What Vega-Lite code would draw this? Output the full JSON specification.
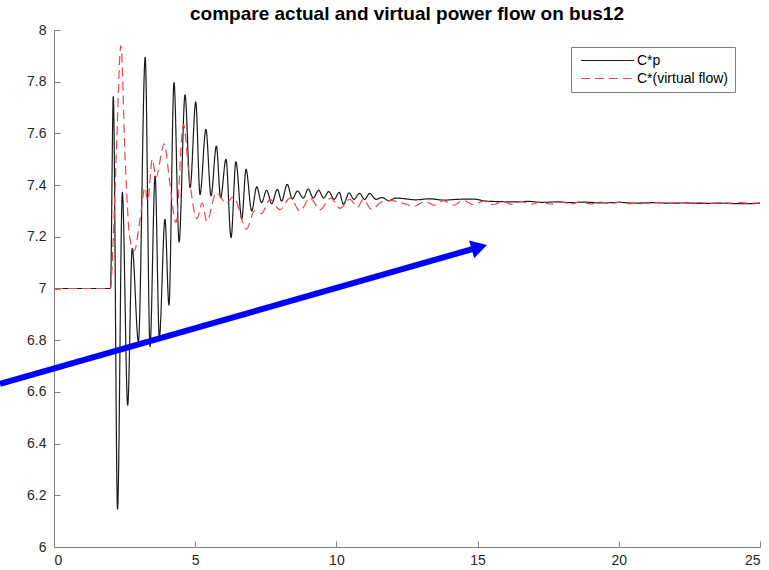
{
  "$schema": "https://vega.github.io/schema/vega-lite/v6.json",
  "width": 706,
  "height": 517,
  "autosize": {"type": "none"},
  "padding": {"left": 54, "top": 30, "right": 9, "bottom": 23},
  "background": "white",
  "title": {"text": "compare actual and virtual power flow on bus12", "fontSize": 19, "fontWeight": "bold", "color": "#000000", "anchor": "middle", "offset": -1},
  "config": {
    "font": "Liberation Sans",
    "view": {"stroke": null},
    "axis": {"grid": false, "domainColor": "#808080", "tickColor": "#808080", "labelColor": "#262626", "labelFontSize": 14, "tickSize": -6, "title": null}
  },
  "datasets": {
    "series": [
      {"t": 0, "v": 7.0, "s": "C*p"},
      {"t": 2.0, "v": 7.0, "s": "C*p"},
      {"t": 2.10, "v": 7.742, "s": "C*p"},
      {"t": 2.25, "v": 6.146, "s": "C*p"},
      {"t": 2.42, "v": 7.372, "s": "C*p"},
      {"t": 2.61, "v": 6.549, "s": "C*p"},
      {"t": 2.77, "v": 7.155, "s": "C*p"},
      {"t": 2.99, "v": 6.794, "s": "C*p"},
      {"t": 3.23, "v": 7.894, "s": "C*p"},
      {"t": 3.40, "v": 6.775, "s": "C*p"},
      {"t": 3.58, "v": 7.435, "s": "C*p"},
      {"t": 3.73, "v": 6.81, "s": "C*p"},
      {"t": 3.93, "v": 7.268, "s": "C*p"},
      {"t": 4.07, "v": 6.936, "s": "C*p"},
      {"t": 4.25, "v": 7.797, "s": "C*p"},
      {"t": 4.43, "v": 7.18, "s": "C*p"},
      {"t": 4.64, "v": 7.749, "s": "C*p"},
      {"t": 4.82, "v": 7.39, "s": "C*p"},
      {"t": 5.02, "v": 7.722, "s": "C*p"},
      {"t": 5.17, "v": 7.364, "s": "C*p"},
      {"t": 5.38, "v": 7.616, "s": "C*p"},
      {"t": 5.56, "v": 7.358, "s": "C*p"},
      {"t": 5.75, "v": 7.551, "s": "C*p"},
      {"t": 5.90, "v": 7.351, "s": "C*p"},
      {"t": 6.09, "v": 7.50, "s": "C*p"},
      {"t": 6.27, "v": 7.197, "s": "C*p"},
      {"t": 6.44, "v": 7.49, "s": "C*p"},
      {"t": 6.65, "v": 7.268, "s": "C*p"},
      {"t": 6.80, "v": 7.461, "s": "C*p"},
      {"t": 7.00, "v": 7.30, "s": "C*p"},
      {"t": 7.18, "v": 7.393, "s": "C*p"},
      {"t": 7.35, "v": 7.332, "s": "C*p"},
      {"t": 7.53, "v": 7.38, "s": "C*p"},
      {"t": 7.71, "v": 7.328, "s": "C*p"},
      {"t": 7.91, "v": 7.384, "s": "C*p"},
      {"t": 8.06, "v": 7.338, "s": "C*p"},
      {"t": 8.26, "v": 7.403, "s": "C*p"},
      {"t": 8.44, "v": 7.346, "s": "C*p"},
      {"t": 8.62, "v": 7.377, "s": "C*p"},
      {"t": 8.83, "v": 7.35, "s": "C*p"},
      {"t": 9.00, "v": 7.385, "s": "C*p"},
      {"t": 9.18, "v": 7.35, "s": "C*p"},
      {"t": 9.37, "v": 7.38, "s": "C*p"},
      {"t": 9.55, "v": 7.35, "s": "C*p"},
      {"t": 9.73, "v": 7.375, "s": "C*p"},
      {"t": 9.92, "v": 7.345, "s": "C*p"},
      {"t": 10.10, "v": 7.372, "s": "C*p"},
      {"t": 10.25, "v": 7.326, "s": "C*p"},
      {"t": 10.45, "v": 7.37, "s": "C*p"},
      {"t": 10.62, "v": 7.345, "s": "C*p"},
      {"t": 10.82, "v": 7.368, "s": "C*p"},
      {"t": 11.00, "v": 7.345, "s": "C*p"},
      {"t": 11.18, "v": 7.368, "s": "C*p"},
      {"t": 11.40, "v": 7.345, "s": "C*p"},
      {"t": 11.62, "v": 7.352, "s": "C*p"},
      {"t": 11.85, "v": 7.34, "s": "C*p"},
      {"t": 12.10, "v": 7.35, "s": "C*p"},
      {"t": 12.37, "v": 7.348, "s": "C*p"},
      {"t": 12.8, "v": 7.343, "s": "C*p"},
      {"t": 13.3, "v": 7.347, "s": "C*p"},
      {"t": 13.8, "v": 7.342, "s": "C*p"},
      {"t": 14.3, "v": 7.345, "s": "C*p"},
      {"t": 14.85, "v": 7.346, "s": "C*p"},
      {"t": 15.3, "v": 7.338, "s": "C*p"},
      {"t": 15.8, "v": 7.336, "s": "C*p"},
      {"t": 16.3, "v": 7.335, "s": "C*p"},
      {"t": 16.8, "v": 7.337, "s": "C*p"},
      {"t": 17.3, "v": 7.333, "s": "C*p"},
      {"t": 17.8, "v": 7.335, "s": "C*p"},
      {"t": 18.3, "v": 7.332, "s": "C*p"},
      {"t": 18.8, "v": 7.334, "s": "C*p"},
      {"t": 19.4, "v": 7.331, "s": "C*p"},
      {"t": 20.0, "v": 7.333, "s": "C*p"},
      {"t": 20.6, "v": 7.330, "s": "C*p"},
      {"t": 21.2, "v": 7.332, "s": "C*p"},
      {"t": 21.8, "v": 7.330, "s": "C*p"},
      {"t": 22.4, "v": 7.331, "s": "C*p"},
      {"t": 23.0, "v": 7.329, "s": "C*p"},
      {"t": 23.6, "v": 7.330, "s": "C*p"},
      {"t": 24.2, "v": 7.328, "s": "C*p"},
      {"t": 25.0, "v": 7.329, "s": "C*p"},
      {"t": 0, "v": 7.0, "s": "C*(virtual flow)"},
      {"t": 2.0, "v": 7.0, "s": "C*(virtual flow)"},
      {"t": 2.10, "v": 7.2, "s": "C*(virtual flow)"},
      {"t": 2.20, "v": 7.5, "s": "C*(virtual flow)"},
      {"t": 2.37, "v": 7.94, "s": "C*(virtual flow)"},
      {"t": 2.52, "v": 7.5, "s": "C*(virtual flow)"},
      {"t": 2.68, "v": 7.2, "s": "C*(virtual flow)"},
      {"t": 2.84, "v": 7.145, "s": "C*(virtual flow)"},
      {"t": 3.05, "v": 7.27, "s": "C*(virtual flow)"},
      {"t": 3.22, "v": 7.39, "s": "C*(virtual flow)"},
      {"t": 3.32, "v": 7.34, "s": "C*(virtual flow)"},
      {"t": 3.48, "v": 7.50, "s": "C*(virtual flow)"},
      {"t": 3.61, "v": 7.43, "s": "C*(virtual flow)"},
      {"t": 3.90, "v": 7.56, "s": "C*(virtual flow)"},
      {"t": 4.11, "v": 7.40, "s": "C*(virtual flow)"},
      {"t": 4.32, "v": 7.255, "s": "C*(virtual flow)"},
      {"t": 4.58, "v": 7.635, "s": "C*(virtual flow)"},
      {"t": 4.80, "v": 7.42, "s": "C*(virtual flow)"},
      {"t": 5.06, "v": 7.27, "s": "C*(virtual flow)"},
      {"t": 5.25, "v": 7.33, "s": "C*(virtual flow)"},
      {"t": 5.41, "v": 7.26, "s": "C*(virtual flow)"},
      {"t": 5.75, "v": 7.37, "s": "C*(virtual flow)"},
      {"t": 6.10, "v": 7.33, "s": "C*(virtual flow)"},
      {"t": 6.35, "v": 7.355, "s": "C*(virtual flow)"},
      {"t": 6.82, "v": 7.23, "s": "C*(virtual flow)"},
      {"t": 7.10, "v": 7.30, "s": "C*(virtual flow)"},
      {"t": 7.35, "v": 7.29, "s": "C*(virtual flow)"},
      {"t": 7.65, "v": 7.345, "s": "C*(virtual flow)"},
      {"t": 8.00, "v": 7.305, "s": "C*(virtual flow)"},
      {"t": 8.36, "v": 7.35, "s": "C*(virtual flow)"},
      {"t": 8.71, "v": 7.30, "s": "C*(virtual flow)"},
      {"t": 9.07, "v": 7.35, "s": "C*(virtual flow)"},
      {"t": 9.42, "v": 7.305, "s": "C*(virtual flow)"},
      {"t": 9.80, "v": 7.35, "s": "C*(virtual flow)"},
      {"t": 10.13, "v": 7.31, "s": "C*(virtual flow)"},
      {"t": 10.48, "v": 7.345, "s": "C*(virtual flow)"},
      {"t": 10.75, "v": 7.315, "s": "C*(virtual flow)"},
      {"t": 10.95, "v": 7.345, "s": "C*(virtual flow)"},
      {"t": 11.25, "v": 7.305, "s": "C*(virtual flow)"},
      {"t": 11.6, "v": 7.335, "s": "C*(virtual flow)"},
      {"t": 11.95, "v": 7.34, "s": "C*(virtual flow)"},
      {"t": 12.35, "v": 7.33, "s": "C*(virtual flow)"},
      {"t": 12.75, "v": 7.318, "s": "C*(virtual flow)"},
      {"t": 13.15, "v": 7.337, "s": "C*(virtual flow)"},
      {"t": 13.45, "v": 7.322, "s": "C*(virtual flow)"},
      {"t": 13.8, "v": 7.34, "s": "C*(virtual flow)"},
      {"t": 14.14, "v": 7.322, "s": "C*(virtual flow)"},
      {"t": 14.5, "v": 7.34, "s": "C*(virtual flow)"},
      {"t": 14.86, "v": 7.324, "s": "C*(virtual flow)"},
      {"t": 15.2, "v": 7.338, "s": "C*(virtual flow)"},
      {"t": 15.55, "v": 7.324, "s": "C*(virtual flow)"},
      {"t": 15.9, "v": 7.337, "s": "C*(virtual flow)"},
      {"t": 16.22, "v": 7.325, "s": "C*(virtual flow)"},
      {"t": 16.55, "v": 7.336, "s": "C*(virtual flow)"},
      {"t": 16.9, "v": 7.326, "s": "C*(virtual flow)"},
      {"t": 17.25, "v": 7.336, "s": "C*(virtual flow)"},
      {"t": 17.6, "v": 7.326, "s": "C*(virtual flow)"},
      {"t": 17.95, "v": 7.335, "s": "C*(virtual flow)"},
      {"t": 18.3, "v": 7.327, "s": "C*(virtual flow)"},
      {"t": 18.65, "v": 7.335, "s": "C*(virtual flow)"},
      {"t": 19.0, "v": 7.327, "s": "C*(virtual flow)"},
      {"t": 19.35, "v": 7.334, "s": "C*(virtual flow)"},
      {"t": 19.7, "v": 7.328, "s": "C*(virtual flow)"},
      {"t": 20.05, "v": 7.334, "s": "C*(virtual flow)"},
      {"t": 20.4, "v": 7.328, "s": "C*(virtual flow)"},
      {"t": 20.75, "v": 7.333, "s": "C*(virtual flow)"},
      {"t": 21.1, "v": 7.329, "s": "C*(virtual flow)"},
      {"t": 21.45, "v": 7.333, "s": "C*(virtual flow)"},
      {"t": 21.8, "v": 7.329, "s": "C*(virtual flow)"},
      {"t": 22.15, "v": 7.333, "s": "C*(virtual flow)"},
      {"t": 22.5, "v": 7.329, "s": "C*(virtual flow)"},
      {"t": 22.85, "v": 7.332, "s": "C*(virtual flow)"},
      {"t": 23.2, "v": 7.329, "s": "C*(virtual flow)"},
      {"t": 23.55, "v": 7.332, "s": "C*(virtual flow)"},
      {"t": 23.9, "v": 7.33, "s": "C*(virtual flow)"},
      {"t": 24.25, "v": 7.332, "s": "C*(virtual flow)"},
      {"t": 24.6, "v": 7.33, "s": "C*(virtual flow)"},
      {"t": 25.0, "v": 7.331, "s": "C*(virtual flow)"}
    ],
    "arrow": [
      {"t": -1.912, "v": 6.631},
      {"t": 15.06, "v": 7.160}
    ],
    "head": [
      {"t": 15.06, "v": 7.160}
    ]
  },
  "layer": [
    {
      "data": {"name": "series"},
      "mark": {"type": "line", "strokeWidth": 1.2, "interpolate": "monotone", "clip": true},
      "encoding": {
        "x": {"field": "t", "type": "quantitative", "scale": {"domain": [0, 25], "nice": false, "zero": false},
              "axis": {"values": [0, 5, 10, 15, 20, 25], "labelPadding": 12, "format": "d"}},
        "y": {"field": "v", "type": "quantitative", "scale": {"domain": [6, 8], "nice": false, "zero": false},
              "axis": {"values": [6, 6.2, 6.4, 6.6, 6.8, 7, 7.2, 7.4, 7.6, 7.8, 8], "labelPadding": 14, "format": ".1~f"}},
        "color": {"field": "s", "type": "nominal", "sort": null,
                  "scale": {"domain": ["C*p", "C*(virtual flow)"], "range": ["#1a1a1a", "#f2424b"]},
                  "legend": {"title": null, "orient": "none", "legendX": 517, "legendY": 17, "symbolType": "stroke", "symbolSize": 2809, "symbolStrokeWidth": 1.2, "clipHeight": 15, "rowPadding": 3, "padding": 6, "symbolOffset": 3, "labelOffset": 2, "labelFontSize": 14, "labelColor": "#000000", "strokeColor": "#808080", "fillColor": "#ffffff"}},
        "strokeDash": {"field": "s", "type": "nominal", "sort": null,
                  "scale": {"domain": ["C*p", "C*(virtual flow)"], "range": [[1, 0], [9, 5]]},
                  "legend": {"title": null, "orient": "none", "legendX": 517, "legendY": 17, "symbolType": "stroke", "symbolSize": 2809, "symbolStrokeWidth": 1.2, "clipHeight": 15, "rowPadding": 3, "padding": 6, "symbolOffset": 3, "labelOffset": 2, "labelFontSize": 14, "labelColor": "#000000", "strokeColor": "#808080", "fillColor": "#ffffff"}}
      }
    },
    {
      "data": {"name": "arrow"},
      "mark": {"type": "line", "color": "#0000ff", "strokeWidth": 6, "clip": false},
      "encoding": {
        "x": {"field": "t", "type": "quantitative"},
        "y": {"field": "v", "type": "quantitative"}
      }
    },
    {
      "data": {"name": "head"},
      "mark": {"type": "point", "shape": "triangle-right", "filled": true, "color": "#0000ff", "opacity": 1, "size": 340, "angle": 344, "clip": false},
      "encoding": {
        "x": {"field": "t", "type": "quantitative"},
        "y": {"field": "v", "type": "quantitative"}
      }
    }
  ]
}
